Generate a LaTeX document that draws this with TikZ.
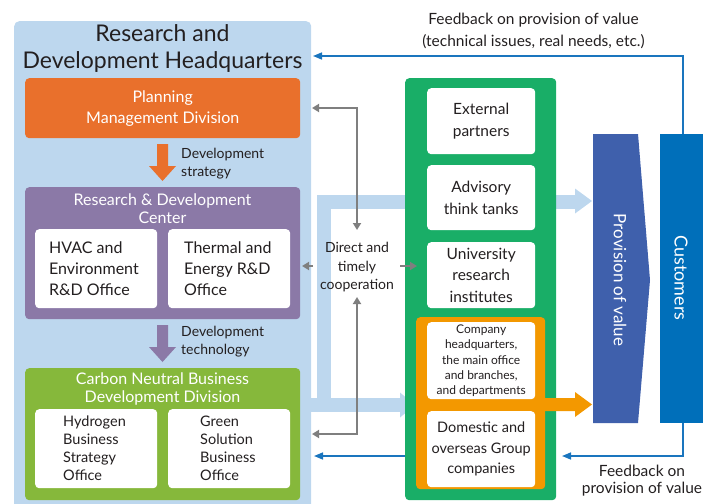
\documentclass[tikz,border=0pt]{standalone}
\usepackage{fontspec}
\setmainfont{Lato}
\usetikzlibrary{arrows.meta}
\definecolor{panelblue}{HTML}{BDD7EE}
\definecolor{planorange}{HTML}{E9702C}
\definecolor{rdpurple}{HTML}{8B79A7}
\definecolor{cngreen}{HTML}{86B83B}
\definecolor{extgreen}{HTML}{19AE67}
\definecolor{grporange}{HTML}{F39800}
\definecolor{provblue}{HTML}{3F60AC}
\definecolor{custblue}{HTML}{006FBA}
\definecolor{fbblue}{HTML}{1A75BE}
\definecolor{arrgray}{HTML}{7F7F7F}
\definecolor{textdark}{HTML}{231F20}
\newcommand\fsz[2]{\fontsize{#1}{#2}\selectfont}
\begin{document}
\begin{tikzpicture}[x=1pt,y=-1pt,
  box/.style={rounded corners=4pt, inner sep=0pt, anchor=north west},
  whitebox/.style={box, fill=white, text=textdark, align=center},
  lbl/.style={text=textdark, inner sep=0pt},
  wlbl/.style={text=white, inner sep=0pt, align=center},
  grayarr/.style={draw=arrgray, line width=2pt, {Triangle[length=7pt,width=8pt]}-{Triangle[length=7pt,width=8pt]}},
  grayone/.style={draw=arrgray, line width=2pt, -{Triangle[length=7pt,width=8pt]}},
  fbline/.style={draw=fbblue, line width=1.5pt, -{Triangle[length=9pt,width=7pt]}},
  band/.style={draw=panelblue, line width=14pt, line join=miter}
]
\useasboundingbox (0,0) rectangle (703,503);
\clip (0,0) rectangle (703,503);

% ---------- R&D headquarters panel ----------
\node[box, fill=panelblue, rounded corners=5pt, minimum width=297pt, minimum height=500pt] (hq) at (14,21) {};
\node[lbl, align=center, font=\fsz{23}{27}] (hqtitle) at (162.5,48.5) {Research and\\Development Headquarters};

\node[box, fill=planorange, text=white, align=center, font=\fsz{16}{21}, minimum width=275pt, minimum height=60pt] (plan) at (25,78) {Planning\\Management Division};
\fill[planorange] (157,144) -- (168,144) -- (168,166) -- (176,166) -- (162.5,181) -- (149,166) -- (157,166) -- cycle;
\node[lbl, anchor=west, align=left, font=\fsz{14}{18}] (devstrat) at (181,164) {Development\\strategy};

\node[box, fill=rdpurple, minimum width=275pt, minimum height=132pt] (rdc) at (25,187) {};
\node[wlbl, font=\fsz{16}{18}] (rdctitle) at (162.5,209) {Research \& Development\\Center};
\node[box, fill=white, minimum width=122pt, minimum height=79pt] (hvac) at (35,229) {};
\node[lbl, anchor=west, align=left, font=\fsz{16}{21}] (hvactext) at ([xshift=14pt]hvac.west) {HVAC and\\Environment\\R\&D Office};
\node[box, fill=white, minimum width=122pt, minimum height=79pt] (therm) at (168,229) {};
\node[lbl, anchor=west, align=left, font=\fsz{16}{21}] (thermtext) at ([xshift=16pt]therm.west) {Thermal and\\Energy R\&D\\Office};

\fill[rdpurple] (157,325) -- (168,325) -- (168,347) -- (176,347) -- (162.5,362) -- (149,347) -- (157,347) -- cycle;
\node[lbl, anchor=west, align=left, font=\fsz{14}{18}] (devtech) at (181,342) {Development\\technology};

\node[box, fill=cngreen, minimum width=275pt, minimum height=132pt] (cn) at (25,368) {};
\node[wlbl, font=\fsz{16}{17.5}] (cntitle) at (162.5,389) {Carbon Neutral Business\\Development Division};
\node[box, fill=white, minimum width=122pt, minimum height=79pt] (hydro) at (35,409) {};
\node[lbl, anchor=west, align=left, font=\fsz{14.5}{18}] (hydrotext) at ([xshift=28pt]hydro.west) {Hydrogen\\Business\\Strategy\\Office};
\node[box, fill=white, minimum width=122pt, minimum height=79pt] (green) at (168,409) {};
\node[lbl, anchor=west, align=left, font=\fsz{14.5}{18}] (greentext) at ([xshift=32pt]green.west) {Green\\Solution\\Business\\Office};

% ---------- light blue bands ----------
\draw[band] (324,412) -- (324,201.5) -- (575,201.5);
\fill[panelblue] (575,188.5) -- (592,201) -- (575,213.5) -- cycle;
\draw[band] (305,405) -- (400,405);
\fill[panelblue] (400,392.5) -- (415,405) -- (400,417.5) -- cycle;

% ---------- external column ----------
\node[box, fill=extgreen, minimum width=151pt, minimum height=422pt] (ext) at (405,78) {};
\node[whitebox, font=\fsz{15.5}{22}, minimum width=108pt, minimum height=66pt] (partners) at (427,88) {External\\partners};
\node[whitebox, font=\fsz{15.5}{22}, minimum width=108pt, minimum height=65pt] (think) at (427,165) {Advisory\\think tanks};
\node[whitebox, font=\fsz{15.5}{21.5}, minimum width=108pt, minimum height=66pt] (univ) at (427,242) {University\\research\\institutes};
\node[box, fill=grporange, minimum width=129pt, minimum height=172pt] (grp) at (416,317) {};
\node[whitebox, font=\fsz{12}{15.2}, minimum width=108pt, minimum height=77pt] (company) at (427,322) {Company\\headquarters,\\the main office\\and branches,\\and departments};
\node[whitebox, font=\fsz{14.5}{20.5}, minimum width=108pt, minimum height=76pt] (domestic) at (427,411) {Domestic and\\overseas Group\\companies};
\fill[grporange] (545,398) -- (575,398) -- (575,392) -- (592,404.5) -- (575,417) -- (575,411) -- (545,411) -- cycle;

% ---------- provision of value & customers ----------
\fill[provblue] (593,134) -- (638,134) -- (650,280) -- (638,423) -- (593,423) -- cycle;
\node[wlbl, rotate=-90, font=\fsz{17}{20}] (prov) at (620,280) {Provision of value};
\node[anchor=north west, inner sep=0pt, fill=custblue, minimum width=60pt, minimum height=289pt] (cust) at (660,134) {};
\node[wlbl, rotate=-90, font=\fsz{18}{20}] (custtext) at (681,278) {Customers};

% ---------- feedback ----------
\coordinate (fbtopR) at (683,56);
\coordinate (fbtopL) at (313,56);
\coordinate (fbbotR) at (683,456);
\coordinate (fbbotM) at (562,456);
\coordinate (fbbotL) at (314,456);
\draw[fbline] (cust.north west -| fbtopR) -- (fbtopR) -- (fbtopL);
\draw[fbline] (cust.south west -| fbbotR) -- (fbbotR) -- (fbbotM);
\draw[fbline] (ext.west |- fbbotR) -- (fbbotL);
\node[lbl, align=center, font=\fsz{15.5}{22}] (fbtoptext) at (533.5,31) {Feedback on provision of value\\(technical issues, real needs, etc.)};
\node[lbl, align=center, font=\fsz{15.5}{17.5}] (fbbottext) at (642,480.5) {Feedback on\\provision of value};

% ---------- direct cooperation ----------
\node[lbl, align=center, font=\fsz{14}{18.5}] (direct) at (357,267.5) {Direct and\\timely\\cooperation};
\draw[grayarr] (312,108) -- (357,108) -- (357,230);
\draw[grayarr] (312,434) -- (357,434) -- (357,297);
\draw[grayone] (313,266) -- (302,266);
\draw[grayone] (400,266) -- (417,266);
\end{tikzpicture}
\end{document}
